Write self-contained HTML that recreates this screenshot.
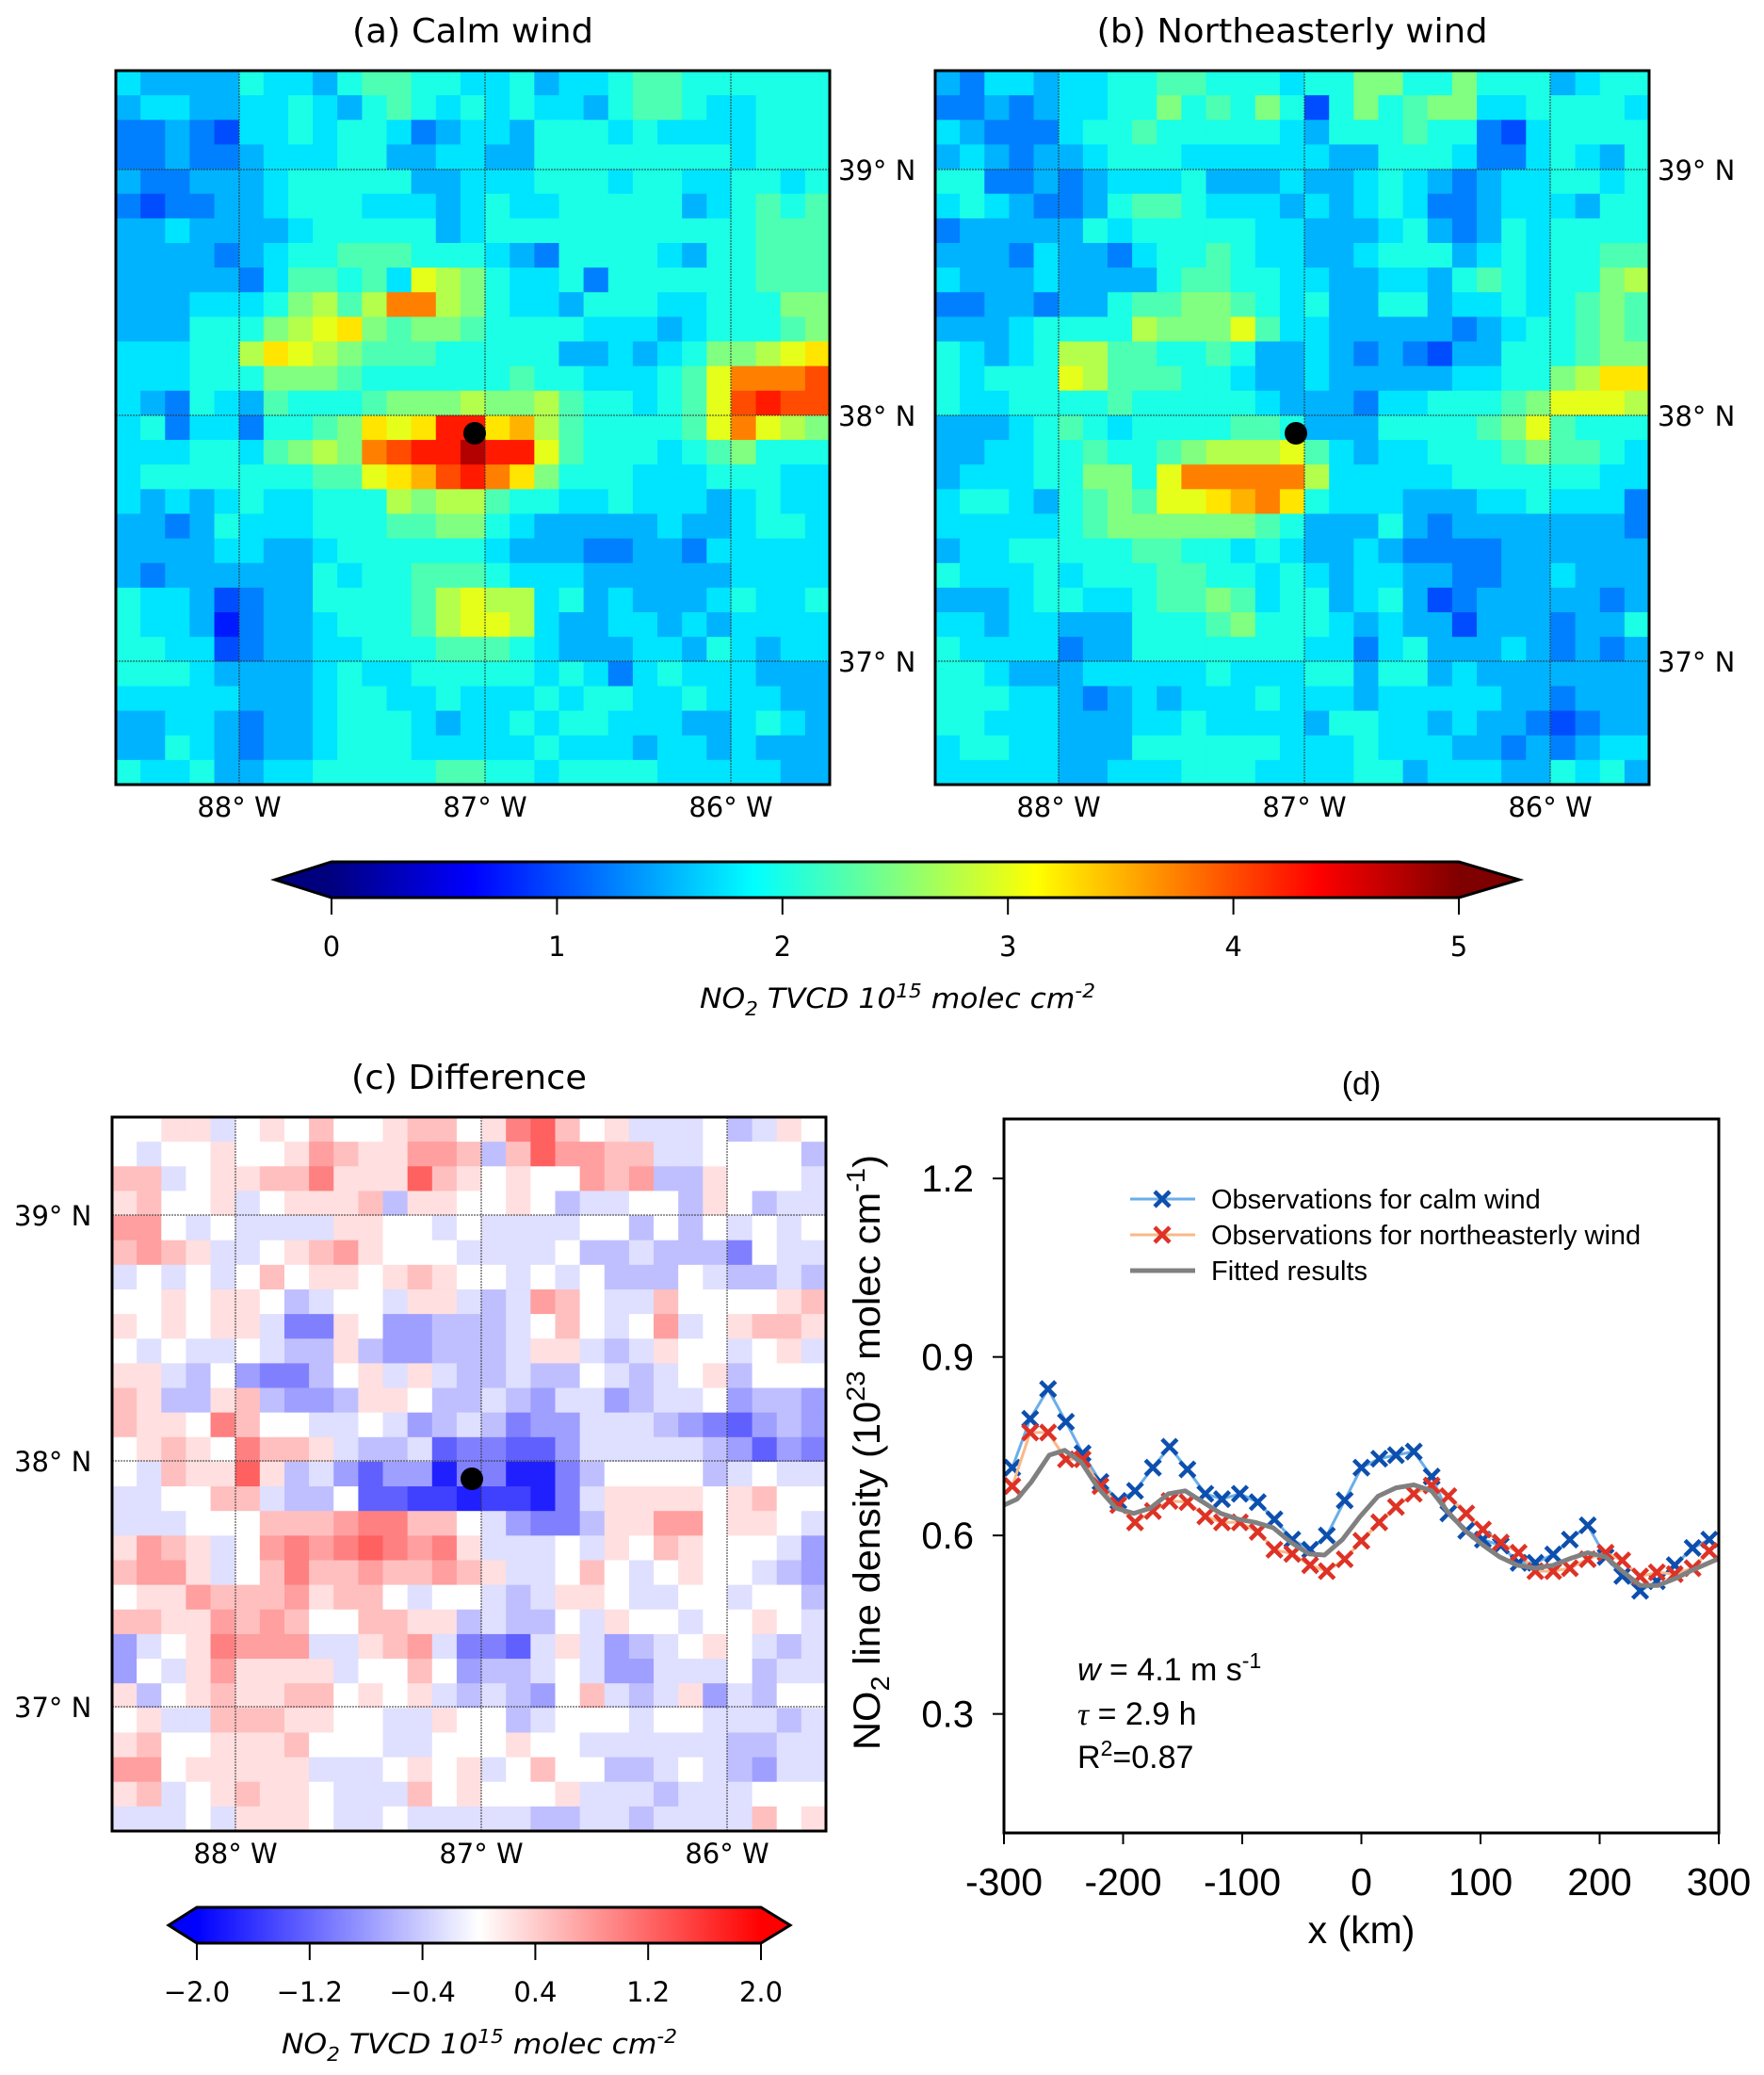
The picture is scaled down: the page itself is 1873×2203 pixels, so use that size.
<!DOCTYPE html>
<html><head><meta charset="utf-8"><style>
html,body{margin:0;padding:0;background:#fff}
svg{display:block}
</style></head><body>
<svg id="fig" width="1873" height="2203" viewBox="0 0 1873 2203" xmlns="http://www.w3.org/2000/svg">
<g id="maps"></g>
<g id="chartd"></g>
</svg>
<script>
// ---------- Data: panel a (calm wind) NO2 TVCD, code*0.25 = value (1e15 molec cm-2)
const gridCalm = [
"76666877689988778677899888888","67766778768987878776899877888","55654778788756776888787777888",
"55655677788667766888888887888","65566678888866777888788778878","54556678887776787788888678989",
"66766667888886788888888888999","66665678899988876588887688999","666665799897cba87785888888999",
"6667778ab9bffba877688877888aa","666888abcda9aa98888777678889a","77788bdcba99988888667678aabcd",
"777888aaa988888898877789cfffg","76587698889aaabaab988789cghgg","785775889adcdhhdeb988889cfcba",
"7778879abafghhjhhc9888789a888","7888888899cdeghfda88877788877","76767877888babb98877877767877",
"6656877788899aa87666667667887","66667766788888876665566577777","65666666878899987776666667777",
"877645668888 9bcbb78676667877","87763566788 89bccb766776767777","88774566778889998766677687677",
"88876666787788888787578777666","77777666788778777878877877766","66776566788876778788777667876",
"66876566788877777877767767666","87786677888889988788887777766"
].map(s=>s.replace(/ /g,''));
// ---------- panel b (northeasterly wind)
const gridNE = [
"65776778899888788aa88a8886788","556567788a898a848a89aa7788887","76555788988888768889885478888",
"67656678887777776688875578768","88556567778666766787656778878","78765568998777676787556777688",
"56666687888887766678656878888","66657665788987766788867878899","76667666689988776677686898788ab".slice(0,10)+"9988776677"+"6898788ab",
"5566566899aa987866886778789a9","66678888baaac97766666567889a9","87678bb99889866765654668889aa",
"87888cb9998876676666677 88abdd".replace(/ /g,''),"87788889888887666577 8889acccb".replace(/ /g,''),"66678987888899866688889ac9888",
"6677889889abbbc976778889a9987","677788aa8cfffffb7777788888877","7887689a9ccdefd87776667787775",
"7777789aaaaaa9866686566666665","67788888998878766765555666666","87778788899887876776655667666",
"66678877899a97886786456666656","77677666888 9a888767664666566".replace(/ /g,''),"87777566888888877578666765656",
"88766677777877788688676666666","88877656767778777677777665666","88777666778777768877676654566",
"78877666888888777877766565677","77777667778887777886777668786"
].map(s=>s.slice(0,29));
// ---------- panel c (difference, code letter: A=-2 ... I=0 ... Q=+2, step 0.25)
const gridDiff = [
"IIJJHIJIKIIJKKIJMNKIJHHHIGHJI","IHIIJIIJLKJJLLKGKNLLKKHHIIIIG","KKHIJJKKMJJJNKJIJIILKLGGJIIIH",
"JKIIJHIJJJKGJJIIJIGHHIIGJIGHH","LLIHIHHHHJJIIHIHHHHIIGIGIHIHI","KLKJHHIJKLJIIIHHHHIGGHGGGEIHH",
"HIHIHIKIJJIJKJIIHIHIGGGIHGGHG","IIJIJJIGHIIHJJHGHLKIHHKIIIIJK","JIJIJJHEEJIFFGGGHIKIHILHIJKKJ",
"IHIHHIHGGJGFFGGGHJJHGHJIIHIJH","JJHGIFEEGIJHJHGGHGGIHGHIJGIII","KJGGJKGFFGJJIGGHGFHHFGHHIFGGF",
"KJJIMKIIHHIHFGHGEFFHHHGFEDFGF","IJKJIMKKJHGGHDEEDDFHHHHHGFDFE","IHKJJNJGHFDFFBEEBBEGIIIIGHIHH",
"HHIIKKHGGIDDCCBCCBEHJJJJIJKII","HHHIIIKKKLMMKKIHFEEGJJLLIJJIH","JLKJHILMLMNMLMJHHHIHJIKJIIIHF",
"KLLJHIKMKKLKKLKJHHIKIHIJIIHGF","IJJLKKKLJKKIHIIHGHJJIHHIIHIIG","KKJJLKLKIIKKJJGHGGIHJIIHIIJIH",
"FHIJMLLLHHJKLHEEDHJHFGHIJIHGH","FIHJLJJJJHIIKIFGGHIHFFHHHIGHH","JGIJKJJKKIJIJHGHGFIKHGHJFHGII",
"IJHHKKKJJIIHHJIIGHIIIHIIHHHGH","JKIIJJJKIIIHHIIIJIIHHHHHHGGHH","LLIJJJJJHHHIJIJHIKIIGGHIHGFHH",
"JKHIJKJJIHHHKIJIIIJHHHGHHHIII","HHHIHJJJIHHIHHHHHGGHHGHHHHKIJ"
];
// ---------- panel d series
const xKm = [-293,-278,-263,-248,-234,-219,-204,-190,-175,-161,-146,-131,-117,-102,-87,-73,-58,-43,-29,-14,0,15,29,44,59,73,88,102,117,132,146,161,175,190,205,219,234,248,263,278,292];
const calmVals = [0.714,0.796,0.846,0.791,0.738,0.69,0.658,0.675,0.714,0.749,0.711,0.670,0.661,0.670,0.656,0.627,0.593,0.576,0.600,0.659,0.714,0.729,0.735,0.741,0.699,0.637,0.608,0.593,0.583,0.554,0.554,0.568,0.593,0.617,0.564,0.532,0.507,0.523,0.550,0.579,0.593];
const neVals = [0.683,0.773,0.773,0.728,0.728,0.683,0.651,0.622,0.641,0.658,0.656,0.632,0.622,0.622,0.606,0.576,0.569,0.550,0.540,0.560,0.591,0.622,0.648,0.670,0.684,0.666,0.637,0.610,0.588,0.571,0.540,0.540,0.545,0.560,0.571,0.558,0.531,0.538,0.535,0.545,0.574];
const fitX = [-300,-289,-277,-262,-249,-235,-221,-206,-191,-177,-162,-148,-133,-118,-103,-89,-74,-59,-44,-31,-16,-1,14,29,44,59,72,87,102,116,131,146,161,175,190,205,219,234,249,264,278,293,300];
const fitVals = [0.651,0.661,0.69,0.735,0.743,0.723,0.68,0.646,0.637,0.646,0.67,0.675,0.656,0.637,0.627,0.622,0.613,0.588,0.569,0.567,0.593,0.632,0.666,0.68,0.685,0.675,0.641,0.608,0.584,0.564,0.55,0.545,0.55,0.561,0.571,0.564,0.54,0.516,0.516,0.528,0.542,0.555,0.561];
const yTicks = [0.3,0.6,0.9,1.2];
const xTicks = [-300,-200,-100,0,100,200,300];
const jetTicks = [0,1,2,3,4,5];
const diffTicks = ["\u22122.0","\u22121.2","\u22120.4","0.4","1.2","2.0"];
const diffTickVals = [-2,-1.2,-0.4,0.4,1.2,2.0];
const lonTicks = [-88,-87,-86];
const latTicks = [39,38,37];

const NS='http://www.w3.org/2000/svg';
function mk(tag,attrs,parent){const e=document.createElementNS(NS,tag);for(const k in attrs)e.setAttribute(k,attrs[k]);if(parent)parent.appendChild(e);return e;}
function clamp(v){return Math.max(0,Math.min(1,v));}
function jet(t){t=clamp(t);const r=clamp(1.5-Math.abs(4*t-3)),g=clamp(1.5-Math.abs(4*t-2)),b=clamp(1.5-Math.abs(4*t-1));return `rgb(${Math.round(r*255)},${Math.round(g*255)},${Math.round(b*255)})`;}
function bwr(v){const t=clamp((v+2)/4);let r,g,b;if(t<0.5){const s=t/0.5;r=s;g=s;b=1;}else{const s=(t-0.5)/0.5;r=1;g=1-s;b=1-s;}return `rgb(${Math.round(r*255)},${Math.round(g*255)},${Math.round(b*255)})`;}
const DJ='"DejaVu Sans","Liberation Sans",sans-serif';
const AR='"Liberation Sans",Arial,sans-serif';

const maps=document.getElementById('maps');
function drawMap(name,x0,y0,grid,colorFn,title,titleW,latSide,lonLines,latLines,dot){
  const g=mk('g',{},maps);
  
  
  const W=758,H=758,n=29,cw=W/n,ch=H/n;
  grid.forEach((row,r)=>{for(let c=0;c<n;c++){const ch0=row[c]||'8';const rect=mk('rect',{x:(x0+c*cw).toFixed(2),y:(y0+r*ch).toFixed(2),width:(cw+0.6).toFixed(2),height:(ch+0.6).toFixed(2),fill:colorFn(ch0)},g);
    
    }});
  const lonX=v=>x0+lonLines[0]+(v+88)*261;
  const latY=v=>y0+latLines[0]+(39-v)*261;
  lonTicks.forEach(v=>{const X=lonX(v);const l=mk('line',{x1:X,x2:X,y1:y0,y2:y0+H,stroke:'#333',"stroke-width":1,"stroke-dasharray":"2,1"},g);
    
    const t=mk('text',{x:X,y:y0+H+34,"font-family":DJ,"font-size":29,"text-anchor":"middle"},g);t.textContent=(-v)+'\u00b0 W';
    });
  latTicks.forEach(v=>{const Y=latY(v);const l=mk('line',{x1:x0,x2:x0+W,y1:Y,y2:Y,stroke:'#333',"stroke-width":1,"stroke-dasharray":"2,1"},g);
    
    const t=mk('text',{x:latSide==='right'?x0+W+9:x0-104,y:Y+11,"font-family":DJ,"font-size":29},g);t.textContent=v+'\u00b0 N';
    });
  const fr=mk('rect',{x:x0,y:y0,width:W,height:H,fill:'none',stroke:'#000',"stroke-width":3},g);
  
  const d=mk('circle',{cx:x0+dot[0],cy:y0+dot[1],r:12,fill:'#000'},g);
  
  const tt=mk('text',{x:x0+W/2,y:y0-30,"font-family":DJ,"font-size":36,"text-anchor":"middle",textLength:titleW,lengthAdjust:"spacingAndGlyphs"},g);tt.textContent=title;
  
}
const jetCode=ch=>{const v=parseInt(ch,36)*0.25;return jet(v/5);};
const diffCode=ch=>{const v=(ch.charCodeAt(0)-73)*0.25;return bwr(v);};
drawMap('map-calm-wind',123,75,gridCalm,jetCode,'(a) Calm wind',256,'right',[131],[105],[381,385]);
drawMap('map-northeasterly-wind',993,75,gridNE,jetCode,'(b) Northeasterly wind',415,'right',[131],[105],[383,385]);
drawMap('map-difference',119,1186,gridDiff,diffCode,'(c) Difference',250,'left',[131],[104],[382,384]);

function colorbar(name,x0,x1,tipL,tipR,y0,y1,fn,lowC,highC,ticks,labels,titleX,titleY,titleW){
  const g=mk('g',{},maps);
  
  const gid=name+'-grad';const defs=mk('defs',{},g);const lg=mk('linearGradient',{id:gid,x1:0,x2:1,y1:0,y2:0},defs);
  for(let i=0;i<=40;i++){mk('stop',{offset:(i/40),"stop-color":fn(i/40)},lg);}
  const ym=(y0+y1)/2;
  mk('polygon',{points:`${x0},${y0} ${tipL},${ym} ${x0},${y1}`,fill:lowC},g);
  mk('polygon',{points:`${x1},${y0} ${tipR},${ym} ${x1},${y1}`,fill:highC},g);
  mk('rect',{x:x0,y:y0,width:x1-x0,height:y1-y0,fill:`url(#${gid})`},g);
  mk('polygon',{points:`${x0},${y0} ${x1},${y0} ${tipR},${ym} ${x1},${y1} ${x0},${y1} ${tipL},${ym}`,fill:'none',stroke:'#000',"stroke-width":3},g);
  ticks.forEach((v,i)=>{const X=x0+v*(x1-x0);mk('line',{x1:X,x2:X,y1:y1,y2:y1+18,stroke:'#000',"stroke-width":2},g);
    const t=mk('text',{x:X,y:y1+62,"font-family":DJ,"font-size":29,"text-anchor":"middle"},g);t.textContent=labels[i];
    });
  const tt=mk('text',{x:titleX,y:titleY,"font-family":DJ,"font-size":29,"font-style":"italic","text-anchor":"middle",textLength:titleW,lengthAdjust:"spacingAndGlyphs"},g);
  tt.innerHTML='NO<tspan font-size="20" dy="8">2</tspan><tspan dy="-8"> TVCD 10</tspan><tspan font-size="20" dy="-11">15</tspan><tspan dy="11"> molec cm</tspan><tspan font-size="20" dy="-11">-2</tspan>';
  
}
colorbar('colorbar-no2',352,1549,292,1613,915,953,t=>jet(t),'#00007f','#7f0000',jetTicks.map(v=>v/5),jetTicks.map(String),953,1070,420);
colorbar('colorbar-difference',209,808,179,839,2025,2063,t=>bwr(t*4-2),'#0000ff','#ff0000',diffTickVals.map(v=>(v+2)/4),diffTicks,509,2180,420);

// ---------- panel d
const cd=document.getElementById('chartd');
const PX0=1066,PX1=1825,PY0=1188,PY1=1946;
const xs=v=>PX0+(v+300)/600*(PX1-PX0);
const ys=v=>PY1-(v-0.1)/1.2*(PY1-PY0);
let t=mk('text',{x:(PX0+PX1)/2,y:1162,"font-family":AR,"font-size":34,"text-anchor":"middle"},cd);t.textContent='(d)';

yTicks.forEach(v=>{const Y=ys(v);mk('line',{x1:PX0-12,x2:PX0,y1:Y,y2:Y,stroke:'#000',"stroke-width":2},cd);
  const l=mk('text',{x:1034,y:Y+14,"font-family":AR,"font-size":40,"text-anchor":"end"},cd);l.textContent=v.toFixed(1);
  });
xTicks.forEach(v=>{const X=xs(v);mk('line',{x1:X,x2:X,y1:PY1,y2:PY1+12,stroke:'#000',"stroke-width":2},cd);
  const l=mk('text',{x:X,y:2012,"font-family":AR,"font-size":41,"text-anchor":"middle"},cd);l.textContent=String(v);
  });
t=mk('text',{x:(PX0+PX1)/2,y:2063,"font-family":AR,"font-size":41,"text-anchor":"middle"},cd);t.textContent='x (km)';

t=mk('text',{x:0,y:0,"font-family":AR,"font-size":40,"text-anchor":"middle",transform:'translate(934,1542) rotate(-90)',textLength:632,lengthAdjust:"spacingAndGlyphs"},cd);
t.innerHTML='NO<tspan font-size="28" dy="10">2</tspan><tspan dy="-10"> line density (10</tspan><tspan font-size="28" dy="-16">23</tspan><tspan dy="16"> molec cm</tspan><tspan font-size="28" dy="-16">-1</tspan><tspan dy="16">)</tspan>';

const clip=mk('clipPath',{id:'dclip'},mk('defs',{},cd));mk('rect',{x:PX0,y:PY0,width:PX1-PX0,height:PY1-PY0},clip);
const plot=mk('g',{"clip-path":"url(#dclip)"},cd);
function series(name,xv,yv,lineC,markC,lw,markers){
  const g=mk('g',{},plot);
  const pts=xv.map((x,i)=>xs(x).toFixed(1)+','+ys(yv[i]).toFixed(1)).join(' ');
  const pl=mk('polyline',{points:pts,fill:'none',stroke:lineC,"stroke-width":lw,"stroke-linejoin":"round"},g);
  
  if(markers)xv.forEach((x,i)=>{const X=xs(x),Y=ys(yv[i]),s=8;
    const p=mk('path',{d:`M${X-s},${Y-s}L${X+s},${Y+s}M${X-s},${Y+s}L${X+s},${Y-s}`,stroke:markC,"stroke-width":4.5,fill:'none'},g);
    });
}
series('calm-wind-series',xKm,calmVals,'#6aaeea','#0d4fae',3,true);
series('northeasterly-series',xKm,neVals,'#f8b887','#de3226',3,true);
series('fitted-series',fitX,fitVals,'#808080','#808080',5,false);
const fr=mk('rect',{x:PX0,y:PY0,width:PX1-PX0,height:PY1-PY0,fill:'none',stroke:'#000',"stroke-width":3},cd);

const leg=mk('g',{},cd);
[['Observations for calm wind','#6aaeea','#0d4fae',1273],['Observations for northeasterly wind','#f8b887','#de3226',1311],['Fitted results','#808080',null,1349]].forEach(e=>{
  const row=mk('g',{},leg);
  mk('line',{x1:1200,x2:1269,y1:e[3],y2:e[3],stroke:e[1],"stroke-width":e[2]?3:5},row);
  if(e[2]){const X=1234,Y=e[3],s=8;mk('path',{d:`M${X-s},${Y-s}L${X+s},${Y+s}M${X-s},${Y+s}L${X+s},${Y-s}`,stroke:e[2],"stroke-width":4.5},row);}
  const tx=mk('text',{x:1286,y:e[3]+10,"font-family":AR,"font-size":29},row);tx.textContent=e[0];});
const ann=mk('g',{"font-family":AR,"font-size":34},cd);
let a=mk('text',{x:1144,y:1784},ann);a.innerHTML='<tspan font-style="italic">w</tspan> = 4.1 m s<tspan font-size="23" dy="-13">-1</tspan>';
a=mk('text',{x:1144,y:1831},ann);a.innerHTML='<tspan font-family="Liberation Serif,serif" font-style="italic">\u03c4</tspan> = 2.9 h';
a=mk('text',{x:1144,y:1877},ann);a.innerHTML='R<tspan font-size="23" dy="-13">2</tspan><tspan dy="13">=0.87</tspan>';
</script>
</body></html>
